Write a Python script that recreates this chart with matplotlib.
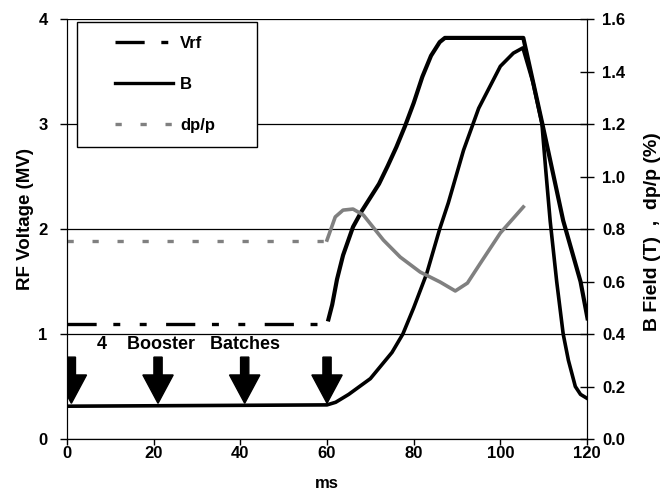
import matplotlib
matplotlib.use("Agg")
import matplotlib.pyplot as plt
from matplotlib.legend_handler import HandlerLine2D

plt.rcParams['font.family'] = ['Liberation Sans', 'DejaVu Sans']
plt.rcParams['font.weight'] = 'bold'
plt.rcParams['lines.scale_dashes'] = False

# RF voltage (MV, left axis)
vrf_flat_t = [0, 60]
vrf_flat = [1.1, 1.1]
vrf_t = [60.2, 61.2, 62.3, 63.7, 66, 68, 70, 72, 74, 76, 78, 80, 82, 84, 86, 87.2, 95, 105.3,
         109.7, 114.5, 118.5, 120.2]
vrf = [1.12, 1.28, 1.52, 1.75, 2.02, 2.17, 2.3, 2.43, 2.6, 2.78, 2.98, 3.2, 3.45, 3.65, 3.78, 3.82, 3.82, 3.82,
       3.0, 2.08, 1.5, 1.13]

# B field (T, right axis)
b_t = [0, 60, 62, 65, 70, 75, 77.5, 80, 83, 86, 88, 91.5, 95, 100, 103, 105.2,
       107.5, 109.6, 110.5, 111.5, 113, 114.5, 115.7, 117.3, 118.5, 120]
b = [0.125, 0.13, 0.14, 0.17, 0.23, 0.33, 0.40, 0.50, 0.63, 0.80, 0.90, 1.10, 1.26, 1.42, 1.47, 1.49,
     1.36, 1.2, 1.02, 0.83, 0.6, 0.4, 0.3, 0.2, 0.17, 0.155]

# dp/p (%, right axis)
dpp_flat_t = [0, 60]
dpp_flat = [0.755, 0.755]
dpp_t = [60, 61.9, 63.7, 66, 68.4, 73, 76.9, 81.5, 86.1, 89.6, 92.4, 95.4, 100, 105.3]
dpp = [0.758, 0.846, 0.872, 0.876, 0.853, 0.758, 0.693, 0.636, 0.598, 0.564, 0.594, 0.670, 0.785, 0.884]

batch_times = [1, 21, 41, 60]

fig = plt.figure(figsize=(6.63, 4.95), dpi=100)
ax = fig.add_axes([0.1011, 0.1131, 0.7843, 0.8485])
ax2 = ax.twinx()

vrf_dash = (0, (21, 12, 5, 14, 5, 14))
dpp_dash = (0, (4.5, 13.5))
gray = '#808080'

ax.plot(vrf_flat_t, vrf_flat, color='black', lw=2.4, linestyle=vrf_dash)
ax.plot(vrf_t, vrf, color='black', lw=3, solid_capstyle='butt')
ax2.plot(b_t, b, color='black', lw=2.6)
ax2.plot(dpp_flat_t, dpp_flat, color=gray, lw=2.4, linestyle=dpp_dash)
ax2.plot(dpp_t, dpp, color=gray, lw=2.6)

for t in batch_times:
    ax.arrow(t, 0.78, 0, -0.44, width=1.9, head_width=7, head_length=0.27,
             length_includes_head=True, color='black', zorder=5)
ax.text(7, 0.9, '4    Booster   Batches', fontsize=13, fontweight='bold', va='center')

ax.set_xlim(0, 120)
ax.set_ylim(0, 4)
ax2.set_ylim(0, 1.6)
ax.set_xticks(range(0, 121, 20))
ax.set_yticks(range(0, 5))
ax2.set_yticks([i * 0.2 for i in range(9)])
ax2.set_yticklabels(['%.1f' % (i * 0.2) for i in range(9)])

ax.yaxis.grid(True, color='black', lw=0.9)
ax.set_axisbelow(True)
for a in (ax, ax2):
    a.spines['top'].set_visible(False)
ax.tick_params(axis='x', direction='out', length=4, width=1, pad=1, labelsize=12)
ax.tick_params(axis='y', direction='out', length=5, width=1, pad=9, labelsize=12)
ax2.tick_params(axis='y', direction='inout', length=10, width=1, pad=6, labelsize=12)

ax.set_xlabel('ms', fontsize=12, fontweight='bold', labelpad=11)
ax.set_ylabel('RF Voltage (MV)', fontsize=13.5, fontweight='bold')
ax.yaxis.set_label_coords(-0.063, 0.524)
ax2.set_ylabel('B Field (T)  ,  dp/p (%)', fontsize=14, fontweight='bold')
ax2.yaxis.set_label_coords(1.11, 0.493)

h1, = ax.plot([], [], color='black', lw=2.4, linestyle=vrf_dash)
h2, = ax.plot([], [], color='black', lw=2.4)
h3, = ax.plot([], [], color=gray, lw=2.4, linestyle=dpp_dash)
hmap = {h: HandlerLine2D(xpad=1.44) for h in (h1, h2, h3)}
leg = ax2.legend([h1, h2, h3], ['Vrf', 'B', 'dp/p'], loc='upper left', mode='expand',
                 bbox_to_anchor=(0.019, 0.693, 0.346, 0.3), borderaxespad=0,
                 prop={'size': 12, 'weight': 'bold'}, handler_map=hmap,
                 handlelength=4.92, handletextpad=0.42, labelspacing=1.55, borderpad=0.84,
                 fancybox=False, framealpha=1, edgecolor='black')
leg.get_frame().set_linewidth(1)

plt.savefig('out.png', dpi=100)
